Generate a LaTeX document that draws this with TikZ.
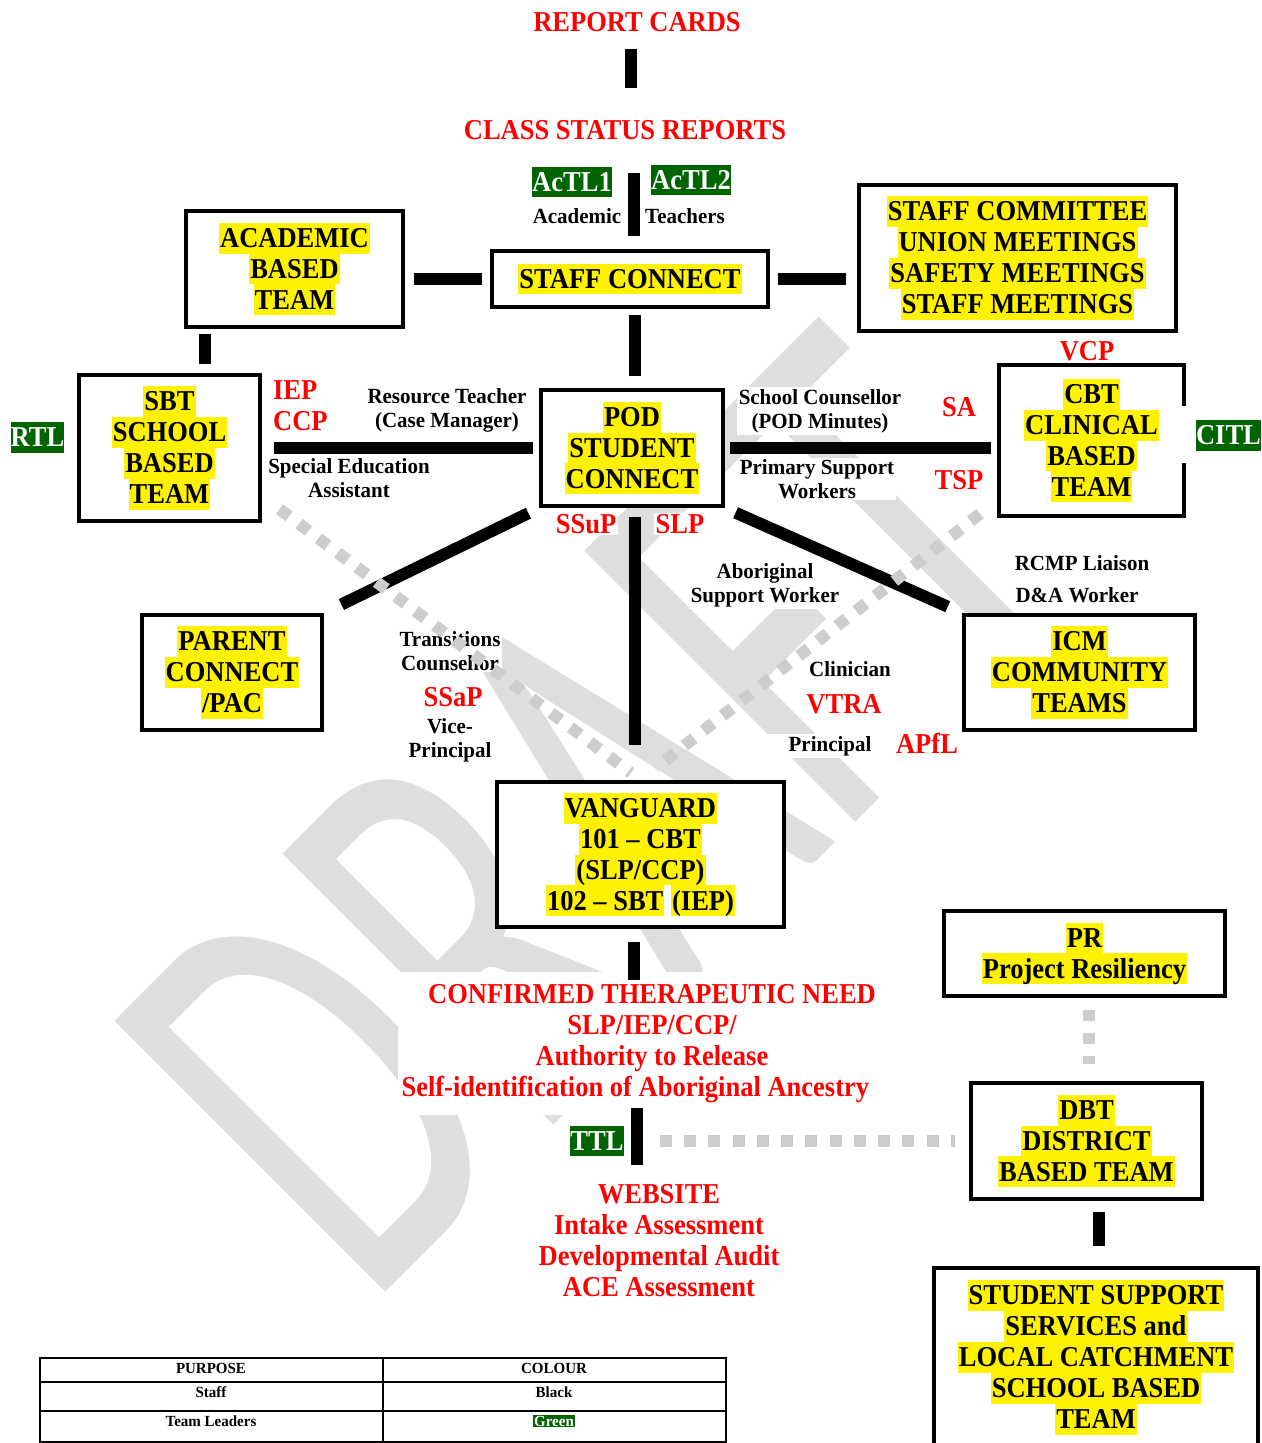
\documentclass[tikz,border=0pt]{standalone}
\usepackage{fontspec}
\setmainfont{Liberation Serif}[FakeStretch=0.92]
\newfontfamily\lblfont{Liberation Serif}[FakeStretch=0.97]
\newfontfamily\wmfont{Carlito}[FakeStretch=0.64]
\definecolor{tlgreen}{RGB}{0,100,0}
\definecolor{dotgray}{RGB}{205,205,205}
\definecolor{wmgray}{RGB}{222,222,222}
\newcommand{\bigtxt}{\fontsize{16.4}{17.6}\selectfont\bfseries}
\newcommand{\smalltxt}{\lblfont\fontsize{12.3}{13.7}\selectfont\bfseries}
\newcommand{\legendtxt}{\lblfont\fontsize{8.8}{10}\selectfont\bfseries}
\newcommand{\hilite}[1]{{\fboxsep=0pt\colorbox{yellow}{\kern0.6pt\rule[-3.5pt]{0pt}{17.6pt}#1\kern0.6pt}}}
\newcommand{\tlbl}[1]{{\fboxsep=0pt\colorbox{tlgreen}{\color{white}\rule[-3.5pt]{0pt}{17.6pt}#1}}}

\begin{document}
\begin{tikzpicture}[x=0.02cm,y=-0.02cm,
    box/.style={draw,line width=2.3pt,fill=white,align=center,inner sep=0pt,font=\bigtxt},
    bar/.style={line width=6.8pt},
    dots/.style={draw=dotgray,line width=6.8pt,dash pattern=on 6.8pt off 7pt},
    lbl/.style={font=\smalltxt,align=center,inner sep=1pt,fill=white},
    redlbl/.style={font=\bigtxt,text=red,align=center,inner sep=1pt,fill=white},
    tlbox/.style={font=\bigtxt,inner sep=0pt}]
    \fill[white] (0,0) rectangle (1261,1443);
    \useasboundingbox (0,0) rectangle (1261,1443);

    % watermark
    \node[rotate=45,inner sep=0pt,text=wmgray,font=\wmfont\fontsize{340}{340}\selectfont] (wm) at (595,812) {DRAFT};

    % top
    \node[redlbl] (report) at (637,22) {REPORT CARDS};
    \node[redlbl] (class) at (625,130) {CLASS STATUS REPORTS};
    \node[tlbox] (actl1) at (572,182) {\tlbl{AcTL1}};
    \node[tlbox] (actl2) at (691,180) {\tlbl{AcTL2}};
    \node[lbl] (acadlbl) at (577,216) {Academic};
    \node[lbl] (teach) at (685,216) {Teachers};

    % boxes
    \node[box,minimum width=4.34cm,minimum height=2.32cm] (acad) at (294.5,269) {\hilite{ACADEMIC}\\\hilite{BASED}\\\hilite{TEAM}};
    \node[box,minimum width=5.52cm,minimum height=1.12cm] (staff) at (630,279) {\hilite{STAFF CONNECT}};
    \node[box,minimum width=6.34cm,minimum height=2.92cm] (cmte) at (1017.5,258) {\hilite{STAFF COMMITTEE}\\\hilite{UNION MEETINGS}\\\hilite{SAFETY MEETINGS}\\\hilite{STAFF MEETINGS}};
    \node[box,minimum width=3.64cm,minimum height=2.32cm] (pod) at (632,448) {\hilite{POD}\\\hilite{STUDENT}\\\hilite{CONNECT}};
    \node[box,minimum width=3.62cm,minimum height=2.92cm] (sbt) at (169.5,448) {\hilite{SBT}\\\hilite{SCHOOL}\\\hilite{BASED}\\\hilite{TEAM}};
    \node[box,draw=none,minimum width=3.62cm,minimum height=2.94cm] (cbt) at (1091.5,440.5) {\hilite{CBT}\\\hilite{CLINICAL}\\\hilite{BASED}\\\hilite{TEAM}};
    \draw[line width=2.3pt] ([yshift=-23.3pt]cbt.north east) -- (cbt.north east) -- (cbt.north west)
        -- (cbt.south west) -- (cbt.south east) -- ([yshift=30.2pt]cbt.south east);
    \node[box,minimum width=3.6cm,minimum height=2.3cm] (parent) at (232,672.5) {\hilite{PARENT}\\\hilite{CONNECT}\\\hilite{/PAC}};
    \node[box,minimum width=4.62cm,minimum height=2.3cm] (icm) at (1079.5,672.5) {\hilite{ICM}\\\hilite{COMMUNITY}\\\hilite{TEAMS}};
    \node[box,minimum width=5.74cm,minimum height=2.9cm] (vang) at (640.5,854.5) {\hilite{VANGUARD}\\\hilite{101 – CBT}\\\hilite{(SLP/CCP)}\\\hilite{102 – SBT} \hilite{(IEP)}};
    \node[box,minimum width=5.62cm,minimum height=1.7cm] (pr) at (1084.5,953.5) {\hilite{PR}\\\hilite{Project Resiliency}};
    \node[box,minimum width=4.62cm,minimum height=2.32cm] (dbt) at (1086.5,1141) {\hilite{DBT}\\\hilite{DISTRICT}\\\hilite{BASED TEAM}};
    \node[box,minimum width=6.48cm,minimum height=3.58cm] (sss) at (1096,1357.5) {\hilite{STUDENT SUPPORT}\\\hilite{SERVICES and}\\\hilite{LOCAL CATCHMENT}\\\hilite{SCHOOL BASED}\\\hilite{TEAM}};

    % team leader tags
    \node[tlbox] (rtl) at (37.5,437.5) {\tlbl{RTL}};
    \node[tlbox] (citl) at (1228.5,435.5) {\tlbl{CITL}};
    \node[tlbox] (ttl) at (597,1141) {\tlbl{TTL}};

    % labels round POD
    \node[redlbl,align=left,anchor=west] (iep) at (271,406) {IEP\\CCP};
    \node[lbl] (restch) at (447,410) {Resource Teacher\\(Case Manager)};
    \node[lbl] (spedu) at (349,478) {Special Education\\Assistant};
    \node[lbl] (schc) at (820,411) {School Counsellor\\(POD Minutes)};
    \node[lbl] (psw) at (817,479) {Primary Support\\Workers};
    \node[redlbl] (sa) at (959,407) {SA};
    \node[redlbl] (tsp) at (959,480) {TSP};
    \node[redlbl] (vcp) at (1087,351) {VCP};
    \node[redlbl] (ssup) at (586,524) {SSuP};
    \node[redlbl] (slp) at (680,524) {SLP};
    \node[lbl] (trans) at (450,651) {Transitions\\Counsellor};
    \node[redlbl] (ssap) at (453,697) {SSaP};
    \node[lbl] (vice) at (450,740.5) {Vice-\\Principal};
    \node[lbl] (abor) at (765,585) {Aboriginal\\Support Worker};
    \node[lbl] (clin) at (850,669) {Clinician};
    \node[redlbl] (vtra) at (844,704) {VTRA};
    \node[lbl,inner xsep=12pt] (princ) at (830,746) {Principal};
    \node[redlbl] (apfl) at (927,743) {APfL};
    \node[lbl] (rcmp) at (1082,563) {RCMP Liaison};
    \node[lbl] (dna) at (1077,595) {D\&A Worker};

    % lower text blocks
    \node[redlbl,minimum width=10.18cm,minimum height=2.86cm] (conf) at (652,1043.5) {CONFIRMED THERAPEUTIC NEED\\SLP/IEP/CCP/\\Authority to Release\\Self-identification of Aboriginal Ancestry\hspace*{19pt}};
    \node[redlbl] (web) at (659,1240.5) {WEBSITE\\Intake Assessment\\Developmental Audit\\ACE Assessment};

    % connectors
    \draw[bar,shorten <=8.5pt,shorten >=17pt] ([xshift=-3.4pt]report.south) -- ([xshift=-3.4pt]report.south |- class.north);
    \draw[bar,shorten <=7.4pt,shorten >=17.6pt] ([xshift=2.3pt]staff.north) -- ([xshift=2.3pt]staff.north |- class.south);
    \draw[bar,shorten <=5.1pt,shorten >=4.6pt] (acad.east |- staff.west) -- (staff.west);
    \draw[bar,shorten <=4.6pt,shorten >=6.3pt] (staff.east) -- (staff.east -| cmte.west);
    \draw[bar,shorten <=6.8pt,shorten >=3.4pt] ([xshift=1.7pt]pod.north) -- ([xshift=1.7pt]pod.north |- staff.south);
    \draw[bar,shorten <=5.1pt,shorten >=2.8pt] ([xshift=20.2pt]sbt.north) -- ([xshift=20.2pt]sbt.north |- acad.south);
    \draw[bar,shorten <=6.8pt,shorten >=3.4pt] (sbt.east) -- (pod.west);
    \draw[bar,shorten <=2.8pt,shorten >=4.6pt] (pod.east) -- (pod.east -| cbt.west);
    \draw[bar,shorten <=6.7pt,shorten >=11pt] (pod.south west) -- (parent.north east);
    \draw[bar,shorten <=5.1pt,shorten >=19.9pt] ([xshift=1.7pt]pod.south) -- ([xshift=1.7pt]pod.south |- vang.north);
    \draw[bar,shorten <=6.6pt,shorten >=8.9pt] (pod.south east) -- (icm.north west);
    \draw[bar,shorten <=7.4pt,shorten >=-4.6pt] ([xshift=-3.7pt]vang.south) -- ([xshift=-3.7pt]vang.south |- conf.north);
    \draw[bar,shorten <=-4pt,shorten >=9.7pt] ([xshift=-8.5pt]conf.south) -- ([xshift=-8.5pt]conf.south |- web.north);
    \draw[bar,shorten <=11.4pt,shorten >=6.3pt] ([xshift=1.7pt]sss.north) -- ([xshift=1.7pt]sss.north |- dbt.south);

    % dotted links
    \draw[dots,shorten <=20.5pt,shorten >=8pt] (ttl.east) -- (ttl.east -| dbt.west);
    \draw[dots,dash pattern=on 6.3pt off 6.8pt,shorten <=6.8pt,shorten >=9.7pt] ([xshift=2.6pt]pr.south) -- ([xshift=2.6pt]pr.south |- dbt.north);
    \draw[dots,shorten <=12.5pt,shorten >=6.8pt] ([yshift=15.4pt]sbt.south east) -- (vang.north);
    \draw[dots,shorten <=13.7pt,shorten >=10.8pt] ([yshift=9.7pt]cbt.south west) -- (vang.north);

    % legend
    \draw[line width=1.1pt] (40,1358) rectangle (726,1442);
    \draw[line width=1.1pt] (383,1358) -- (383,1442);
    \draw[line width=1.1pt] (40,1382) -- (726,1382);
    \draw[line width=1.1pt] (40,1411) -- (726,1411);
    \foreach \y/\a/\b in {1368/PURPOSE/COLOUR,1392/Staff/Black} {
        \node[font=\legendtxt,inner sep=0pt] (pur-\y) at (211,\y) {\a};
        \node[font=\legendtxt,inner sep=0pt] (col-\y) at (554,\y) {\b};
    }
    \node[font=\legendtxt,inner sep=0pt] (pur-1421) at (211,1421) {Team Leaders};
    \node[font=\legendtxt,inner sep=0pt] (col-1421) at (554,1421) {{\fboxsep=0.5pt\colorbox{tlgreen}{\color{white}Green}}};
\end{tikzpicture}
\end{document}
